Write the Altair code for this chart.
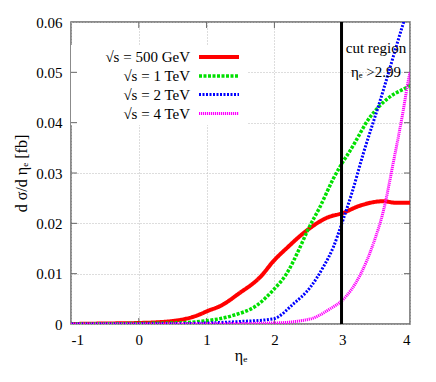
import altair as alt
import pandas as pd

# 500 GeV
eta_500 = [-1, -0.5, 0, 0.5, 0.9, 1.0, 1.22, 1.47, 1.81, 1.98, 2.2, 2.47, 2.79, 3.0, 3.24, 3.61, 3.78, 4.0]
val_500 = [0, 0.0001, 0.0002, 0.0006, 0.0019, 0.0025, 0.0037, 0.006, 0.0096, 0.0124, 0.0153, 0.0185, 0.0212, 0.022, 0.0234, 0.0244, 0.0241, 0.0241]
# 1 TeV
eta_1 = [-1, 0, 0.5, 0.9, 1.39, 1.74, 1.98, 2.18, 2.38, 2.49, 2.67, 2.87, 3.0, 3.12, 3.41, 3.7, 3.97, 4.0]
val_1 = [0, 0.0001, 0.0002, 0.0005, 0.0017, 0.0037, 0.0067, 0.01, 0.0153, 0.0186, 0.0232, 0.0289, 0.032, 0.0345, 0.0411, 0.0451, 0.0472, 0.0475]
# 2 TeV
eta_2 = [-1, 0.5, 1.0, 1.5, 1.98, 2.28, 2.53, 2.72, 2.87, 3.0, 3.14, 3.31, 3.56, 3.9, 4.0]
val_2 = [0, 0.00005, 0.0002, 0.0005, 0.001, 0.004, 0.0073, 0.0113, 0.0153, 0.0202, 0.0259, 0.0338, 0.0444, 0.0597, 0.064]
# 4 TeV
eta_4 = [-1, 1.0, 2.0, 2.53, 2.82, 3.0, 3.26, 3.46, 3.61, 3.76, 3.9, 3.97, 4.0]
val_4 = [0, 0.00005, 0.0002, 0.001, 0.003, 0.0047, 0.0096, 0.016, 0.0226, 0.0325, 0.0424, 0.048, 0.05]

labels = ["√s = 500 GeV", "√s = 1 TeV", "√s = 2 TeV", "√s = 4 TeV"]
colors = ["#ff0000", "#00e000", "#0000ff", "#ff00ff"]
widths = [4, 3.5, 3, 3]
dashes = [[1, 0], [3, 1.5], [2, 1.5], [1.2, 0.8]]
cut_value = 2.99
x_ticks = [-1, 0, 1, 2, 3, 4]
y_ticks = [0, 0.01, 0.02, 0.03, 0.04, 0.05, 0.06]

series = [(eta_500, val_500), (eta_1, val_1), (eta_2, val_2), (eta_4, val_4)]

FONT = "Liberation Serif"
xscale = alt.Scale(domain=[-1, 4], nice=False)
yscale = alt.Scale(domain=[0, 0.06], nice=False)

layers = []
# white key box hiding the grid
layers.append(
    alt.Chart(pd.DataFrame({"a": [0]})).mark_rect(color="white").encode(
        x=alt.value(0), x2=alt.value(176), y=alt.value(23), y2=alt.value(103)
    )
)

# inward tick marks
ydf = pd.DataFrame({"v": y_ticks[1:-1]})
xdf = pd.DataFrame({"e": x_ticks[1:-1]})
layers.append(alt.Chart(ydf).mark_rule(color="#666", strokeWidth=1).encode(
    y=alt.Y("v:Q", scale=yscale), x=alt.value(0), x2=alt.value(6)))
layers.append(alt.Chart(ydf).mark_rule(color="#666", strokeWidth=1).encode(
    y=alt.Y("v:Q", scale=yscale), x=alt.value(333), x2=alt.value(339)))
layers.append(alt.Chart(xdf).mark_rule(color="#666", strokeWidth=1).encode(
    x=alt.X("e:Q", scale=xscale), y=alt.value(296), y2=alt.value(302)))
layers.append(alt.Chart(xdf).mark_rule(color="#666", strokeWidth=1).encode(
    x=alt.X("e:Q", scale=xscale), y=alt.value(0), y2=alt.value(6)))

for i, (e, v) in enumerate(series):
    df = pd.DataFrame({"eta": e, "val": v})
    if i == 0:
        enc_x = alt.X("eta:Q", scale=xscale,
                      axis=alt.Axis(values=x_ticks, title="ηₑ", labelFont=FONT, titleFont=FONT,
                                    labelExpr="datum.value + ''"))
        enc_y = alt.Y("val:Q", scale=yscale,
                      axis=alt.Axis(values=y_ticks, labelFont=FONT, titleFont=FONT,
                                    title="d σ/d ηₑ [fb]",
                                    labelExpr="datum.value == 0 ? '0' : format(datum.value, '.2f')"))
    else:
        enc_x = alt.X("eta:Q", scale=xscale)
        enc_y = alt.Y("val:Q", scale=yscale)
    layers.append(
        alt.Chart(df).mark_line(color=colors[i], strokeWidth=widths[i], strokeDash=dashes[i],
                                interpolate="monotone", clip=True).encode(x=enc_x, y=enc_y)
    )

# cut line
cut_df = pd.DataFrame({"eta": [cut_value]})
layers.append(
    alt.Chart(cut_df).mark_rule(color="black", strokeWidth=3).encode(x=alt.X("eta:Q", scale=xscale))
)

# legend
rows_y = [35, 54, 72.5, 91.5]
for i in range(4):
    d = pd.DataFrame({"t": [labels[i]]})
    layers.append(
        alt.Chart(d).mark_text(align="right", baseline="middle", font=FONT, fontSize=15, color="black").encode(
            text="t:N", x=alt.value(119), y=alt.value(rows_y[i])
        )
    )
    layers.append(
        alt.Chart(d).mark_rule(color=colors[i], strokeWidth=widths[i], strokeDash=dashes[i]).encode(
            x=alt.value(128), x2=alt.value(168), y=alt.value(rows_y[i])
        )
    )

# cut region text
ct = pd.DataFrame({"t": ["cut region"]})
layers.append(
    alt.Chart(ct).mark_text(align="center", baseline="middle", font=FONT, fontSize=15, color="black").encode(
        text="t:N", x=alt.value(305), y=alt.value(26)
    )
)
ct2 = pd.DataFrame({"t": ["ηₑ >2.99"]})
layers.append(
    alt.Chart(ct2).mark_text(align="center", baseline="middle", font=FONT, fontSize=15, color="black").encode(
        text="t:N", x=alt.value(305), y=alt.value(50)
    )
)

chart = alt.layer(*layers).properties(
    width=339, height=302,
    padding={"left": 63, "top": 14, "right": 18, "bottom": 50},
    autosize=alt.AutoSizeParams(type="none"),
).configure_view(stroke="#666", strokeWidth=1.5).configure_axis(
    labelFont=FONT, titleFont=FONT, labelFontSize=15, titleFontSize=16,
    labelColor="black", titleColor="black", titleFontWeight="normal",
    domain=False, ticks=False,
    grid=True, gridColor="#bbbbbb", gridDash=[1, 2], gridWidth=1,
).configure_axisX(labelPadding=8, titlePadding=0).configure_axisY(labelPadding=9, titlePadding=6)

chart.save("out.html", embed_options={"renderer": "svg", "actions": False})
